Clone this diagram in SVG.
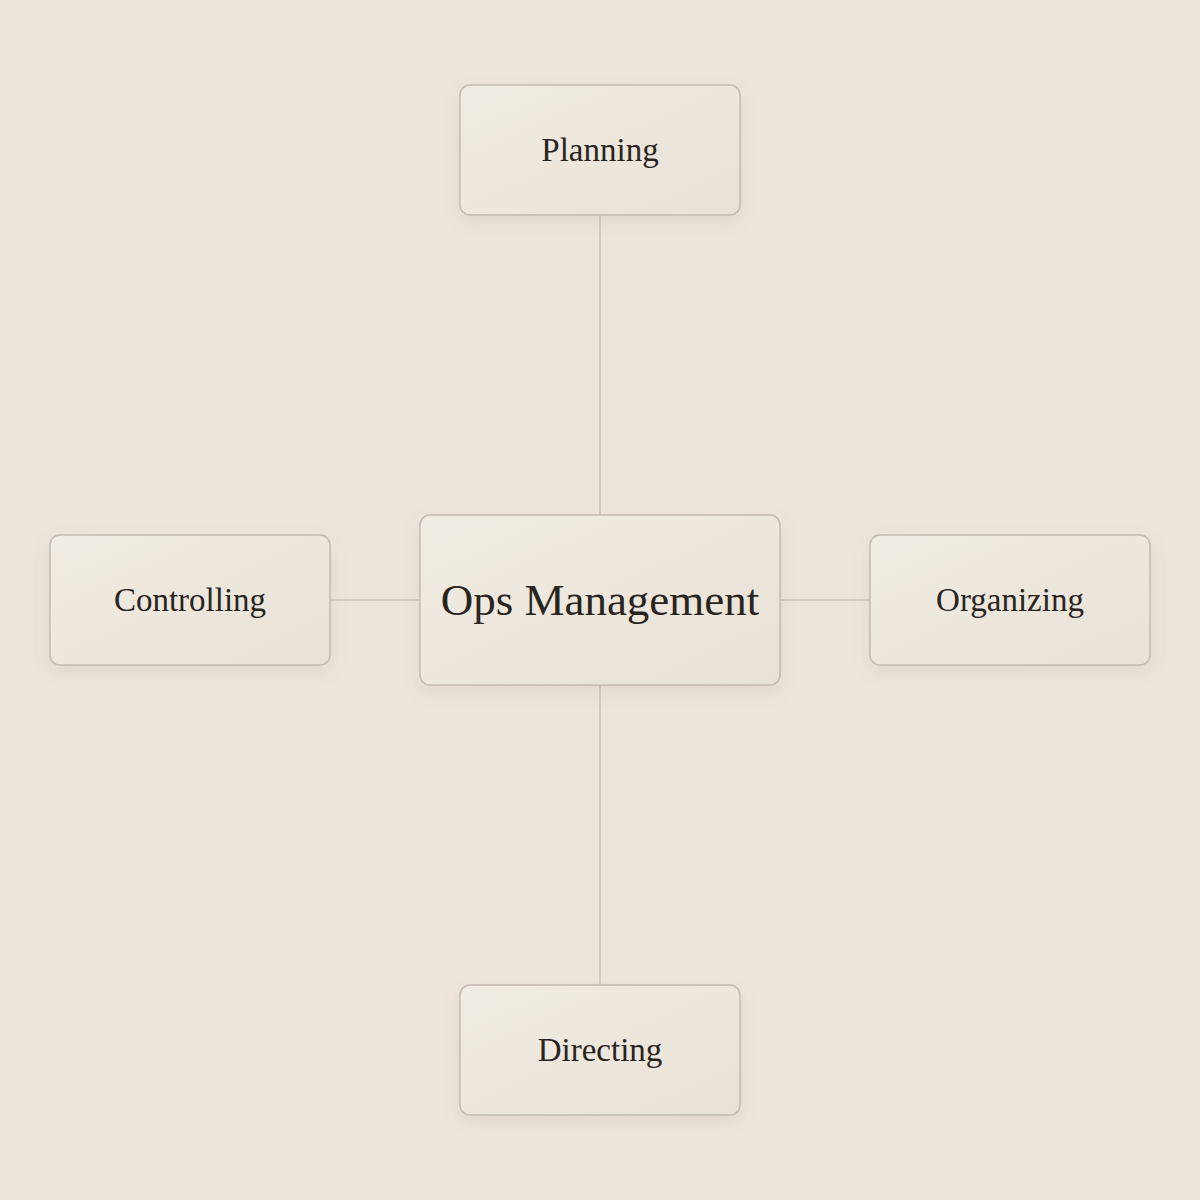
<svg xmlns="http://www.w3.org/2000/svg" width="1200" height="1200" viewBox="0 0 1200 1200">
<style>
.node{fill:url(#g);stroke:#c2bab0;stroke-width:1.5;filter:url(#sh)}
.lbl{font-family:"Liberation Serif","DejaVu Serif",serif;fill:#2a241e;text-anchor:middle;dominant-baseline:central}
.edge{stroke:#cbc3b9;stroke-width:1.5;fill:none}
</style>
<defs>
<linearGradient id="g" x1="0" y1="0" x2="1" y2="1">
<stop offset="0" stop-color="#f1ece3"/>
<stop offset="1" stop-color="#e8e1d6"/>
</linearGradient>
<filter id="sh" x="-20%" y="-20%" width="140%" height="150%">
<feDropShadow dx="0" dy="6" stdDeviation="8" flood-color="#8a7a66" flood-opacity="0.14"/>
</filter>
</defs>
<rect width="1200" height="1200" fill="#ede5dc"/>
<g id="connectors">
<line class="edge" x1="600" y1="215" x2="600" y2="515"/>
<line class="edge" x1="600" y1="685" x2="600" y2="985"/>
<line class="edge" x1="330" y1="600" x2="420" y2="600"/>
<line class="edge" x1="780" y1="600" x2="870" y2="600"/>
</g>
<g id="planning"><rect class="node" x="460" y="85" width="280" height="130" rx="10"/><text class="lbl" x="600" y="150" font-size="33">Planning</text></g>
<g id="controlling"><rect class="node" x="50" y="535" width="280" height="130" rx="10"/><text class="lbl" x="190" y="600" font-size="33">Controlling</text></g>
<g id="organizing"><rect class="node" x="870" y="535" width="280" height="130" rx="10"/><text class="lbl" x="1010" y="600" font-size="33">Organizing</text></g>
<g id="directing"><rect class="node" x="460" y="985" width="280" height="130" rx="10"/><text class="lbl" x="600" y="1050" font-size="33">Directing</text></g>
<g id="center"><rect class="node" x="420" y="515" width="360" height="170" rx="10"/><text class="lbl" x="600" y="600" font-size="45">Ops Management</text></g>
</svg>
